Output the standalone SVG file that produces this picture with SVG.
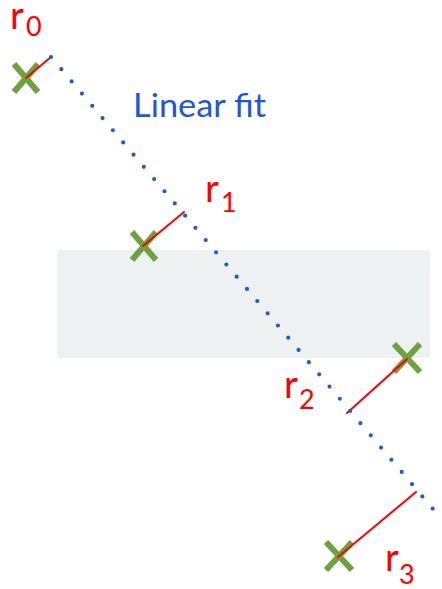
<svg xmlns="http://www.w3.org/2000/svg" width="442" height="589" viewBox="0 0 442 589">
<style>
.band{fill:#eef1f2}
.x{stroke:#6fa140;stroke-width:6;stroke-linecap:butt;fill:none}
.res{stroke:#ff0000;stroke-width:2;stroke-linecap:round;fill:none}
.fit{stroke:#1f5bd6;stroke-width:4.2;stroke-linecap:round;stroke-dasharray:0 15.98;fill:none}
.lbl{font-family:"Lato","Open Sans",sans-serif;fill:#ff0000}
.r{font-size:38px}
.sub{font-size:27px}
.fitlbl{font-family:"Lato","Open Sans",sans-serif;font-size:33px;fill:#1e56d6}
</style>
<rect id="band" class="band" x="57" y="250" width="373" height="108"/>
<g id="p0">
<path class="x" d="M14,64 L38,92 M38,64 L14,92"/>
<text class="lbl" x="10" y="29"><tspan class="r">r</tspan><tspan class="sub" x="26" y="36">0</tspan></text>
</g>
<g id="p1">
<path class="x" d="M132,232 L156,260 M156,232 L132,260"/>
<text class="lbl" x="205" y="202"><tspan class="r">r</tspan><tspan class="sub" x="221" y="212">1</tspan></text>
</g>
<g id="p2">
<path class="x" d="M394,344 L420,372 M420,344 L394,372"/>
<text class="lbl" x="284" y="398"><tspan class="r">r</tspan><tspan class="sub" x="299" y="409">2</tspan></text>
</g>
<g id="p3">
<path class="x" d="M326,542 L352,570 M352,542 L326,570"/>
<text class="lbl" x="385" y="571"><tspan class="r">r</tspan><tspan class="sub" x="399" y="584">3</tspan></text>
</g>
<g id="connectors">
<line class="res" x1="26" y1="78" x2="51" y2="57"/>
<line class="res" x1="143" y1="246" x2="184" y2="212"/>
<line class="res" x1="407" y1="359" x2="347" y2="413"/>
<line class="res" x1="338" y1="557" x2="416" y2="492"/>
<line id="fit" class="fit" x1="51" y1="57" x2="433" y2="509"/>
</g>
<text id="fit-label" class="fitlbl" x="133" y="117" textLength="133" lengthAdjust="spacingAndGlyphs">Linear fit</text>
</svg>
